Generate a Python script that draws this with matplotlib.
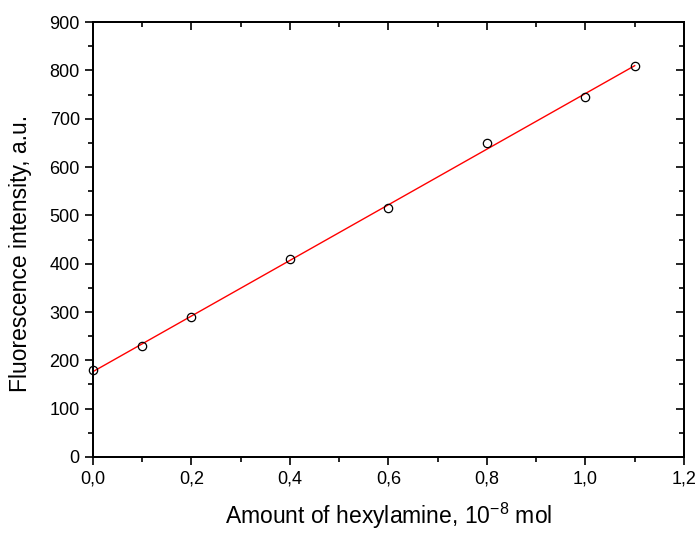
import numpy as np
import matplotlib as mpl
import matplotlib.pyplot as plt
from matplotlib.ticker import MultipleLocator, FuncFormatter

mpl.rcParams["font.family"] = ["Liberation Sans", "DejaVu Sans"]
mpl.rcParams["mathtext.fontset"] = "custom"
mpl.rcParams["mathtext.rm"] = "Liberation Sans"

# data
amount = [0.0, 0.1, 0.2, 0.4, 0.6, 0.8, 1.0, 1.1]
intensity = [180, 230, 290, 410, 515, 650, 745, 810]

# linear fit through the points
slope, intercept = np.polyfit(amount, intensity, 1)
fit_x = np.array([amount[0], amount[-1]])
fit_y = slope * fit_x + intercept

fig = plt.figure(figsize=(6.99, 5.33), dpi=100)
ax = fig.add_axes([0.133, 0.1426, 0.8455, 0.8161])

ax.plot(fit_x, fit_y, color="red", lw=1.0, zorder=2)
ax.plot(amount, intensity, "o", ms=6, mfc="none", mec="black", mew=0.9,
        zorder=3, clip_on=False)

ax.set_xlim(0, 1.2)
ax.set_ylim(0, 900)
ax.xaxis.set_major_locator(MultipleLocator(0.2))
ax.xaxis.set_minor_locator(MultipleLocator(0.1))
ax.yaxis.set_major_locator(MultipleLocator(100))
ax.yaxis.set_minor_locator(MultipleLocator(50))
ax.xaxis.set_major_formatter(FuncFormatter(lambda v, p: f"{v:.1f}".replace(".", ",")))

ax.tick_params(which="both", direction="out", top=False, right=False,
               labelsize=13, width=1.2)
ax.tick_params(which="major", length=6)
ax.tick_params(which="minor", length=3.5)

# inward ticks on top and right, no labels
ax2 = ax.twinx()
ax2.set_ylim(ax.get_ylim())
ax2.yaxis.set_major_locator(MultipleLocator(100))
ax2.yaxis.set_minor_locator(MultipleLocator(50))
ax2.tick_params(which="both", direction="in", labelright=False, width=1.2)
ax2.tick_params(which="major", length=6)
ax2.tick_params(which="minor", length=3.5)
ax3 = ax.twiny()
ax3.set_xlim(ax.get_xlim())
ax3.xaxis.set_major_locator(MultipleLocator(0.2))
ax3.xaxis.set_minor_locator(MultipleLocator(0.1))
ax3.tick_params(which="both", direction="in", labeltop=False, width=1.2)
ax3.tick_params(which="major", length=6)
ax3.tick_params(which="minor", length=3.5)

for a in (ax, ax2, ax3):
    for s in a.spines.values():
        s.set_linewidth(1.2)

ax.set_xlabel("Amount of hexylamine, 10$^{\\mathregular{-8}}$ mol", fontsize=16.5, labelpad=10)
ax.set_ylabel("Fluorescence intensity, a.u.", fontsize=16.5)
# label sits a little below the axes centre in the reference
ax.yaxis.set_label_coords(-0.104, 0.467)

plt.savefig("out.png", dpi=100)
plt.close(fig)
